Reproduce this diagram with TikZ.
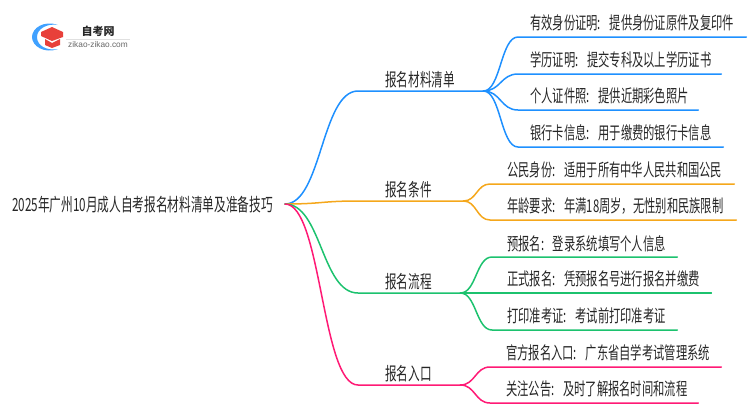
\documentclass[tikz,border=0pt]{standalone}
\usepackage{fontspec}
\setmainfont[FakeStretch=0.645,WordSpace=0.35]{Noto Sans CJK SC}
\newfontfamily\logofont{Noto Sans CJK SC}
\newfontfamily\logolatin{Liberation Sans}
\definecolor{cblue}{HTML}{1E90FF}
\definecolor{corange}{HTML}{F5A71B}
\definecolor{cgreen}{HTML}{1CC26E}
\definecolor{cpink}{HTML}{FF1A75}
\definecolor{ctext}{HTML}{262626}
\definecolor{chat}{HTML}{E8403A}
\tikzset{
  x=1pt,y=-1pt,
  link/.style={line width=1.5pt,line cap=round},
  txt/.style={inner sep=0pt,text=ctext,font=\fontsize{18}{20}\selectfont},
  branch/.style={txt,anchor=south west,minimum height=23pt,text width=#1pt,align=left},
  leaf/.style={txt,font=\fontsize{17.5}{20}\selectfont,anchor=south west,minimum height=27pt,text width=#1pt,align=left},
}
\usetikzlibrary{calc}
\begin{document}
\begin{tikzpicture}
\useasboundingbox (0,0) rectangle (750,410);
% logo
\fill[cblue!85!white] (58,25) .. controls (44,20) and (32,28) .. (32,37) .. controls (32,46) and (44,54) .. (58,49) .. controls (47,51) and (37,46) .. (37,37) .. controls (37,29) and (47,23) .. (58,25) -- cycle;
\fill[chat] (52,27) -- (63,32) -- (63,37) -- (52,41) -- (41,36) -- (41,32) -- cycle;
\fill[chat] (45,39) -- (52,43) -- (60,39) -- (60,45) -- (52,48) -- (45,45) -- cycle;
\node[inner sep=0pt,text=ctext,font=\logofont\bfseries\fontsize{11}{13}\selectfont] (logotitle) at (98,31) {自考网};
\draw[black!12,line width=0.6pt] (66,39.5) -- (130,39.5);
\node[inner sep=0pt,text=black!60,font=\logolatin\fontsize{8.3}{9}\selectfont] (logourl) at (98,45) {zikao-zikao.com};
% root
\node[txt,anchor=west,font=\fontsize{18.1}{20}\selectfont] (root) at (12,205) {2025年广州10月成人自考报名材料清单及准备技巧};
\coordinate (start) at (285,204);
% branches
\node[branch=125] (A) at (358,91) {\hspace{27pt}报名材料清单};
\node[branch=105] (B) at (358,201) {\hspace{27pt}报名条件};
\node[branch=102] (C) at (358,293) {\hspace{27pt}报名流程};
\node[branch=102] (D) at (358,385) {\hspace{27pt}报名入口};
% leaves
\node[leaf=228] (a1) at (518,37) {\hspace{12pt}有效身份证明: 提供身份证原件及复印件};
\node[leaf=203] (a2) at (518,74) {\hspace{12pt}学历证明: 提交专科及以上学历证书};
\node[leaf=180] (a3) at (518,110) {\hspace{12pt}个人证件照: 提供近期彩色照片};
\node[leaf=205] (a4) at (518,147) {\hspace{12pt}银行卡信息: 用于缴费的银行卡信息};
\node[leaf=244] (b1) at (490,184) {\hspace{17pt}公民身份: 适用于所有中华人民共和国公民};
\node[leaf=246] (b2) at (490,220) {\hspace{17pt}年龄要求: 年满18周岁，无性别和民族限制};
\node[leaf=185] (c1) at (492,257) {\hspace{15pt}预报名: 登录系统填写个人信息};
\node[leaf=219] (c2) at (492,293) {\hspace{15pt}正式报名: 凭预报名号进行报名并缴费};
\node[leaf=185] (c3) at (492,330) {\hspace{15pt}打印准考证: 考试前打印准考证};
\node[leaf=231] (d1) at (490,367) {\hspace{16pt}官方报名入口: 广东省自学考试管理系统};
\node[leaf=208] (d2) at (490,403) {\hspace{16pt}关注公告: 及时了解报名时间和流程};
% connectors
\foreach \n/\c in {A/cblue,B/corange,C/cgreen,D/cpink}{
  \draw[link,\c] (start) .. controls ($(start)!0.5!(start-|\n.south west)$) and ($(\n.south west)!0.5!(start|-\n.south west)$) .. (\n.south west) -- (\n.south east);
}
\foreach \h/\l/\c in {A/a1/cblue,A/a2/cblue,A/a3/cblue,A/a4/cblue,B/b1/corange,B/b2/corange,C/c1/cgreen,C/c2/cgreen,C/c3/cgreen,D/d1/cpink,D/d2/cpink}{
  \draw[link,\c] (\h.south east) .. controls ($(\h.south east)!0.5!(\h.south east-|\l.south west)$) and ($(\l.south west)!0.5!(\h.south east|-\l.south west)$) .. (\l.south west) -- (\l.south east);
}
\end{tikzpicture}
\end{document}
